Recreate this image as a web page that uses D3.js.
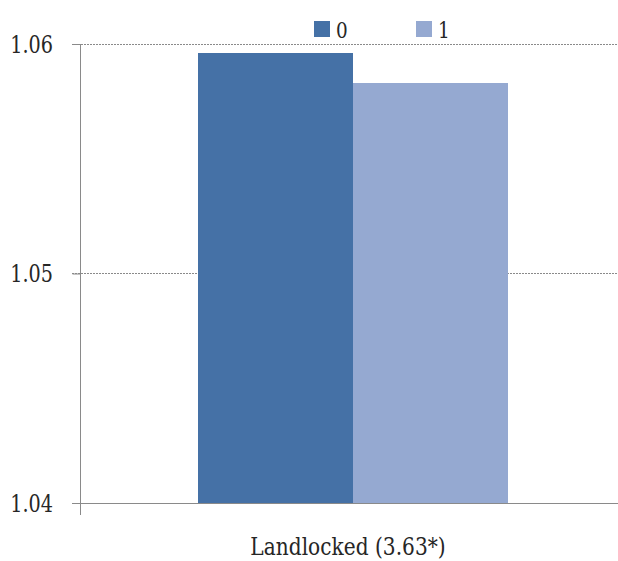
<!DOCTYPE html>
<html><head><meta charset="utf-8">
<script src="https://cdn.jsdelivr.net/npm/d3@7"></script>
<style>html,body{margin:0;padding:0;background:#fff;}svg{display:block;}</style>
</head><body>
<svg id="c" width="618" height="561"></svg>
<script>
const categories = ["Landlocked (3.63*)"];
const seriesNames = ["0", "1"];
const series0 = [1.0596];
const series1 = [1.0583];
const yTicks = [1.04, 1.05, 1.06];
const yTickLabels = ["1.04", "1.05", "1.06"];
const colors = ["#4571a6", "#95a9d1"];

const svg = d3.select("#c");
const font = "DejaVu Serif";
const textColor = "#262626";
const sx = 0.8; // horizontal compression to mimic the narrow serif face
const y = d3.scaleLinear().domain([1.04, 1.06]).range([503, 44]);
const x0 = d3.scaleBand().domain(categories).range([80, 626]).paddingInner(0).paddingOuter(0.381);
const x1 = d3.scaleBand().domain(seriesNames).range([0, x0.bandwidth()]);

// gridlines
svg.append("g").selectAll("line").data(yTicks.filter(t => t > 1.04)).join("line")
  .attr("x1", 72).attr("x2", 618).attr("y1", d => y(d)).attr("y2", d => y(d))
  .attr("stroke", "#8a8a8a").attr("stroke-width", 1).attr("stroke-dasharray", "2,1")
  .attr("shape-rendering", "crispEdges");

// bars
const data = categories.map((c, i) => ({cat: c, vals: [series0[i], series1[i]]}));
const g = svg.append("g").selectAll("g").data(data).join("g")
  .attr("transform", d => `translate(${x0(d.cat)},0)`);
g.selectAll("rect").data(d => d.vals.map((v, j) => ({name: seriesNames[j], v, j}))).join("rect")
  .attr("x", d => x1(d.name)).attr("width", x1.bandwidth())
  .attr("y", d => y(d.v)).attr("height", d => y(1.04) - y(d.v))
  .attr("fill", d => colors[d.j]).attr("shape-rendering", "crispEdges");

// y axis ticks (via d3 axis), labels drawn compressed
const yAxis = d3.axisLeft(y).tickValues(yTicks).tickFormat("").tickSize(8);
const ya = svg.append("g").attr("transform", "translate(80.5,0)").call(yAxis);
ya.select(".domain").remove();
ya.selectAll(".tick line").attr("stroke", "#8a8a8a");
svg.append("g").selectAll("text").data(yTicks).join("text")
  .attr("transform", d => `translate(53,${y(d)}) scale(${sx},1)`)
  .attr("text-anchor", "end").attr("dy", "0.36em")
  .attr("font-family", font).attr("font-size", 24).attr("fill", textColor)
  .text((d, i) => yTickLabels[i]);
svg.append("line").attr("x1", 80.5).attr("x2", 80.5).attr("y1", 44).attr("y2", 515).attr("stroke", "#8a8a8a");
svg.append("line").attr("x1", 72).attr("x2", 618).attr("y1", 503.5).attr("y2", 503.5).attr("stroke", "#8a8a8a");

// category label
svg.append("g").selectAll("text").data(categories).join("text")
  .attr("transform", d => `translate(${x0(d) + x0.bandwidth() / 2 - 5},555) scale(0.84,1)`)
  .attr("text-anchor", "middle").attr("font-family", font).attr("font-size", 24).attr("fill", textColor)
  .text(d => d);

// legend
const legX = [314, 416];
const leg = svg.append("g").selectAll("g").data(seriesNames).join("g")
  .attr("transform", (d, i) => `translate(${legX[i]},21)`);
leg.append("rect").attr("width", 16).attr("height", 16).attr("fill", (d, i) => colors[i]);
leg.append("text").attr("transform", `translate(22,16.5) scale(${sx},1)`)
  .attr("font-family", font).attr("font-size", 23).attr("fill", textColor).text(d => d);
</script>
</body></html>
